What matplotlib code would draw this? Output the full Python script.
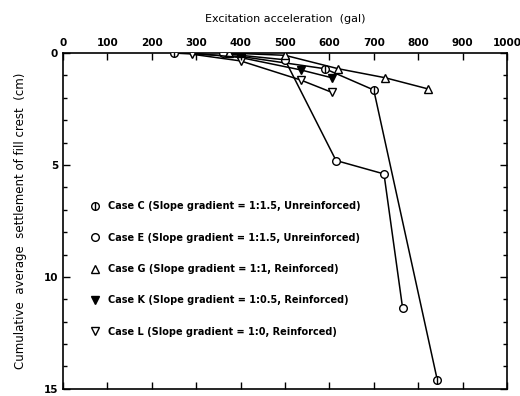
import matplotlib
matplotlib.use('Agg')
import matplotlib.pyplot as plt
from matplotlib.lines import Line2D
from matplotlib.legend_handler import HandlerTuple
from matplotlib.ticker import MultipleLocator

plt.rcParams['font.family'] = ['DejaVu Sans']

# excitation acceleration (gal) / settlement (cm)
acc_c = [250, 400, 590, 700, 843]
set_c = [0.0, 0.15, 0.7, 1.65, 14.6]

acc_e = [360, 400, 500, 615, 723, 765]
set_e = [0.0, 0.1, 0.3, 4.8, 5.4, 11.4]

acc_g = [375, 500, 620, 725, 822]
set_g = [0.0, 0.1, 0.7, 1.1, 1.6]

acc_k = [290, 400, 535, 605]
set_k = [0.0, 0.2, 0.75, 1.1]

acc_l = [290, 400, 535, 605]
set_l = [0.05, 0.35, 1.2, 1.75]

labels = ['Case C (Slope gradient = 1:1.5, Unreinforced)',
          'Case E (Slope gradient = 1:1.5, Unreinforced)',
          'Case G (Slope gradient = 1:1, Reinforced)',
          'Case K (Slope gradient = 1:0.5, Reinforced)',
          'Case L (Slope gradient = 1:0, Reinforced)']

fig = plt.figure(figsize=(5.2, 3.96), dpi=100)
ax = fig.add_axes([0.121, 0.018, 0.854, 0.848])

ms = 5.5
lw = 1.1
mk = dict(color='black', lw=lw, markersize=ms, markeredgewidth=1.0)

ax.plot(acc_c, set_c, 'o', markerfacecolor='white', **mk, linestyle='-', zorder=3)
ax.plot(acc_c, set_c, '|', color='black', markersize=ms, markeredgewidth=1.0, linestyle='none', zorder=4)
ax.plot(acc_e, set_e, 'o', markerfacecolor='white', **mk, linestyle='-', zorder=3)
ax.plot(acc_g, set_g, '^', markerfacecolor='white', **mk, linestyle='-', zorder=3)
ax.plot(acc_k, set_k, 'v', markerfacecolor='black', **mk, linestyle='-', zorder=3)
ax.plot(acc_l, set_l, 'v', markerfacecolor='white', **mk, linestyle='-', zorder=3)

ax.set_xlim(0, 1000)
ax.set_ylim(15, 0)
ax.xaxis.set_ticks_position('both')
ax.xaxis.set_label_position('top')
ax.tick_params(axis='x', labeltop=True, labelbottom=False)
ax.set_xticks(range(0, 1001, 100))
ax.yaxis.set_major_locator(MultipleLocator(5))
ax.yaxis.set_minor_locator(MultipleLocator(1))
ax.tick_params(which='both', direction='in', right=True, top=True, width=1.0)
ax.tick_params(which='major', length=5, labelsize=7.5)
ax.tick_params(which='minor', length=3)
for lab in ax.get_xticklabels() + ax.get_yticklabels():
    lab.set_fontweight('bold')
for s in ax.spines.values():
    s.set_linewidth(1.2)

ax.set_xlabel('Excitation acceleration  (gal)', fontsize=8, labelpad=12)
ax.set_ylabel('Cumulative  average  settlement of fill crest  (cm)', fontsize=8.5, labelpad=12)

def h(marker, face):
    return Line2D([], [], color='black', marker=marker, markerfacecolor=face,
                  linestyle='none', markersize=ms, markeredgewidth=1.0)

handles = [(h('o', 'white'), h('|', 'white')), h('o', 'white'), h('^', 'white'),
           h('v', 'black'), h('v', 'white')]
ax.legend(handles, labels, loc='upper left', bbox_to_anchor=(0.04, 0.585),
          frameon=False, labelspacing=2.2, handlelength=1.2,
          handletextpad=0.7, handler_map={tuple: HandlerTuple(ndivide=1)},
          prop={'size': 7, 'weight': 'bold'})

fig.savefig('out.png', dpi=100)
